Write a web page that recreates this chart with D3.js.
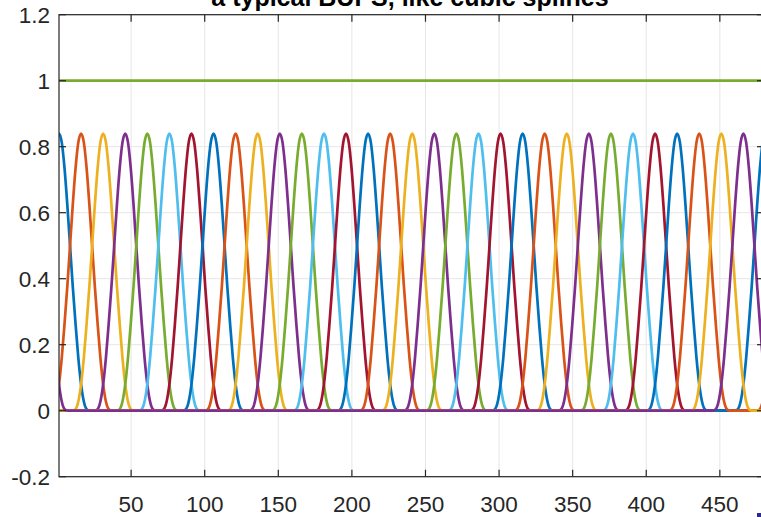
<!DOCTYPE html>
<html>
<head>
  <meta charset="UTF-8">
  <title>a typical BUPS, like cubic splines</title>
  <script src="https://d3js.org/d3.v7.min.js"></script>
  <style>
    body { margin: 0; background: #fff; }
    svg { display: block; }
    text { font-family: "Liberation Sans", Arial, Helvetica, sans-serif; fill: #262626; }
    .tick-label { font-size: 22.5px; }
    .title { font-size: 25px; font-weight: bold; fill: #000; }
  </style>
</head>
<body>
  <svg id="chart" width="761" height="517"></svg>

  <script>
    // basis centres (one bump every 15 samples, periodic over 480)
    var period = 480;
    var centers = [1, 16, 31, 46, 61, 76, 91, 106, 121, 136, 151, 166, 181, 196, 211, 226,
                   241, 256, 271, 286, 301, 316, 331, 346, 361, 376, 391, 406, 421, 436, 451, 466];
    // bump profile: offset in spacings -> value
    var profileOffsets = [-1.5, -1.375, -1.25, -1.125, -1, -0.875, -0.75, -0.625, -0.5, -0.375, -0.25, -0.125,
                          0, 0.125, 0.25, 0.375, 0.5, 0.625, 0.75, 0.875, 1, 1.125, 1.25, 1.375, 1.5];
    var profileValues  = [0, 0.0005, 0.005, 0.028, 0.08, 0.16, 0.263, 0.375, 0.5, 0.625, 0.735, 0.813,
                          0.84, 0.813, 0.735, 0.625, 0.5, 0.375, 0.263, 0.16, 0.08, 0.028, 0.005, 0.0005, 0];
    var spacing = 15;
    // sum of all bumps (flat line)
    var sumX = [1, 480];
    var sumY = [1, 1];

    var xTicks = [50, 100, 150, 200, 250, 300, 350, 400, 450];
    var yTicks = [-0.2, 0, 0.2, 0.4, 0.6, 0.8, 1, 1.2];
    var colors = ["#0072BD", "#D95319", "#EDB120", "#7E2F8E", "#77AC30", "#4DBEEE", "#A2142F"];

    var plotL = 59, plotR = 764, plotT = 14.7, plotB = 476.7;

    var x = d3.scaleLinear().domain([1, 480]).range([plotL, plotR]);
    var y = d3.scaleLinear().domain([-0.2, 1.2]).range([plotB, plotT]);

    var svg = d3.select("#chart");

    svg.append("clipPath").attr("id", "clip")
       .append("rect")
       .attr("x", plotL).attr("y", plotT)
       .attr("width", plotR - plotL).attr("height", plotB - plotT);

    // grid
    svg.append("g").selectAll("line").data(xTicks).enter().append("line")
       .attr("x1", function(d) { return x(d); }).attr("x2", function(d) { return x(d); })
       .attr("y1", plotT).attr("y2", plotB)
       .attr("stroke", "#e6e6e6").attr("stroke-width", 1);
    svg.append("g").selectAll("line").data(yTicks).enter().append("line")
       .attr("x1", plotL).attr("x2", plotR)
       .attr("y1", function(d) { return y(d); }).attr("y2", function(d) { return y(d); })
       .attr("stroke", "#e6e6e6").attr("stroke-width", 1);

    // curves
    var line = d3.line()
                 .x(function(d) { return x(d[0]); })
                 .y(function(d) { return y(d[1]); })
                 .curve(d3.curveMonotoneX);

    function bumpPoints(c) {
      var pts = [[-200, 0]];
      [c - period, c, c + period].forEach(function(cc) {
        profileOffsets.forEach(function(t, i) {
          pts.push([cc + t * spacing, profileValues[i]]);
        });
      });
      pts.push([800, 0]);
      return pts;
    }

    var plot = svg.append("g").attr("clip-path", "url(#clip)");
    centers.forEach(function(c, i) {
      plot.append("path")
          .attr("d", line(bumpPoints(c)))
          .attr("fill", "none")
          .attr("stroke", colors[i % colors.length])
          .attr("stroke-width", 2.7)
          .attr("stroke-linejoin", "round");
    });

    plot.append("path")
        .attr("d", line(sumX.map(function(v, i) { return [v, sumY[i]]; })))
        .attr("fill", "none")
        .attr("stroke", colors[centers.length % colors.length])
        .attr("stroke-width", 2.7);

    // axes box
    var axisColor = "#262626";
    svg.append("rect")
       .attr("x", plotL).attr("y", plotT)
       .attr("width", plotR - plotL).attr("height", plotB - plotT)
       .attr("fill", "none").attr("stroke", axisColor).attr("stroke-width", 1.2);

    var tickLen = 7;
    var ticks = svg.append("g").attr("stroke", axisColor).attr("stroke-width", 1.2);
    xTicks.forEach(function(t) {
      ticks.append("line").attr("x1", x(t)).attr("x2", x(t)).attr("y1", plotB).attr("y2", plotB - tickLen);
      ticks.append("line").attr("x1", x(t)).attr("x2", x(t)).attr("y1", plotT).attr("y2", plotT + tickLen);
    });
    yTicks.forEach(function(t) {
      ticks.append("line").attr("x1", plotL).attr("x2", plotL + tickLen).attr("y1", y(t)).attr("y2", y(t));
      ticks.append("line").attr("x1", plotR).attr("x2", plotR - tickLen).attr("y1", y(t)).attr("y2", y(t));
    });

    svg.append("g").selectAll("text").data(xTicks).enter().append("text")
       .attr("class", "tick-label")
       .attr("x", function(d) { return x(d); })
       .attr("y", 512)
       .attr("text-anchor", "middle")
       .text(function(d) { return d; });

    svg.append("g").selectAll("text").data(yTicks).enter().append("text")
       .attr("class", "tick-label")
       .attr("x", 50)
       .attr("y", function(d) { return y(d) + 8; })
       .attr("text-anchor", "end")
       .text(function(d) { return d; });

    svg.append("text")
       .attr("class", "title")
       .attr("x", 410)
       .attr("y", 6)
       .attr("text-anchor", "middle")
       .text("a typical BUPS, like cubic splines");

    // small mark at the bottom right corner
    svg.append("rect")
       .attr("x", 757).attr("y", 513).attr("width", 4).attr("height", 4)
       .attr("fill", "#2b2b8c");
  </script>
</body>
</html>
